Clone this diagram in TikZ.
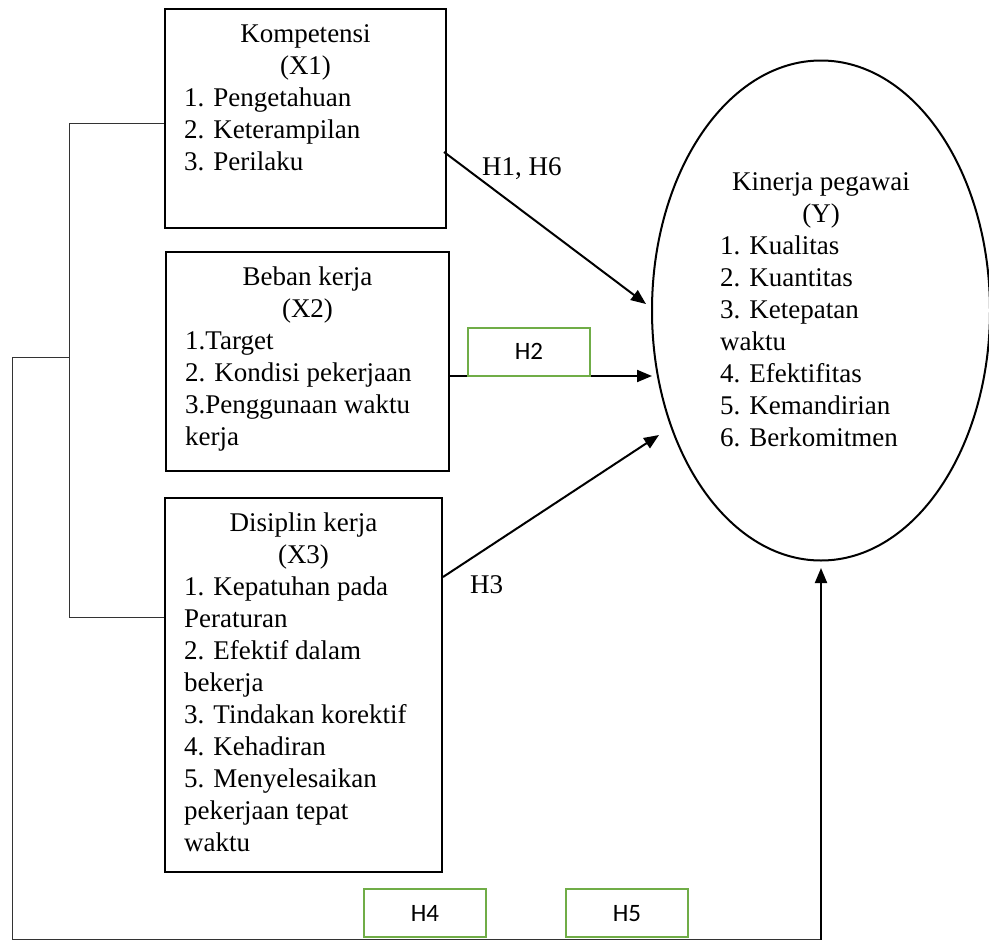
\documentclass[tikz,border=0pt]{standalone}
\usepackage{fontspec}
\setmainfont{Liberation Serif}
\newfontfamily\hfont{Carlito}
\usepackage{tikz}
\usetikzlibrary{arrows.meta, positioning, calc, shapes.geometric}
\definecolor{hgreen}{RGB}{112,173,71}

\begin{document}
\begin{tikzpicture}[x=1pt, y=-1pt,
  varbox/.style={draw, line width=2pt, inner sep=0pt},
  hbox/.style={draw=hgreen, line width=1.7pt, fill=white, minimum width=122pt, minimum height=48pt, inner sep=0pt, font=\hfont\fontsize{25}{30}\selectfont},
  ttl/.style={anchor=base, inner sep=0pt, font=\fontsize{27}{32}\selectfont},
  itm/.style={anchor=base west, inner sep=0pt, font=\fontsize{27}{32}\selectfont},
  link/.style={line width=1pt, black!80},
  arr/.style={line width=2pt, -{Triangle[length=15pt, width=12pt]}}]
  \useasboundingbox (0,0) rectangle (989,943);

  % independent variables
  \node[varbox, minimum width=281pt, minimum height=219pt] (x1) at (305.5,118.5) {};
  \node[varbox, minimum width=283pt, minimum height=219pt] (x2) at (307.5,361.5) {};
  \node[varbox, minimum width=277pt, minimum height=374pt] (x3) at (303.5,685) {};

  \node[ttl] (x1t) at ($(x1.north)+(0,34)$) {Kompetensi};
  \node[ttl] (x1c) at ($(x1.north)+(0,66)$) {(X1)};
  \foreach \t [count=\i] in {1. Pengetahuan, 2. Keterampilan, 3. Perilaku}
    \node[itm] (x1i\i) at ($(x1.north west)+(20,66+32*\i)$) {\t};

  \node[ttl] (x2t) at ($(x2.north)+(0,34)$) {Beban kerja};
  \node[ttl] (x2c) at ($(x2.north)+(0,66)$) {(X2)};
  \foreach \t [count=\i] in {1.Target, 2. Kondisi pekerjaan, 3.Penggunaan waktu, kerja}
    \node[itm] (x2i\i) at ($(x2.north west)+(20,66+32*\i)$) {\t};

  \node[ttl] (x3t) at ($(x3.north)+(0,34)$) {Disiplin kerja};
  \node[ttl] (x3c) at ($(x3.north)+(0,66)$) {(X3)};
  \foreach \t [count=\i] in {1. Kepatuhan pada, Peraturan, 2. Efektif dalam, bekerja,
      3. Tindakan korektif, 4. Kehadiran, 5. Menyelesaikan, pekerjaan tepat, waktu}
    \node[itm] (x3i\i) at ($(x3.north west)+(20,66+32*\i)$) {\t};

  % dependent variable
  \node[ellipse, draw, line width=2pt, inner sep=0pt, minimum width=338pt, minimum height=500pt] (ky) at (821,310.5) {};
  \node[ttl] (kyt) at ($(ky.north)+(0,130.5)$) {Kinerja pegawai};
  \node[ttl] (kyc) at ($(ky.north)+(0,162.5)$) {(Y)};
  \foreach \t [count=\i] in {1. Kualitas, 2. Kuantitas, 3. Ketepatan, waktu,
      4. Efektifitas, 5. Kemandirian, 6. Berkomitmen}
    \node[itm] (kyi\i) at ($(ky.north)+(-101,162.5+32*\i)$) {\t};

  % direct effects
  \coordinate (a1s) at ($(x1.north east)+(-3,144)$);
  \coordinate (a1e) at ($(ky.west)+(-5,-6.5)$);
  \draw[arr] (a1s) -- (a1e);
  \draw[arr] ($(x2.east)+(0,14.5)$) -- ($(ky.west)+(1,65.5)$);
  \coordinate (a3s) at ($(x3.east)+(0,-108)$);
  \coordinate (a3e) at ($(ky.west)+(8,124.5)$);
  \draw[arr] (a3s) -- (a3e);

  \node[itm] (lh1) at (482,175) {H1, H6};
  \node[itm] (lh3) at (470,593) {H3};
  \node[hbox, anchor=south] (h2) at (529,376.5) {H2};

  % joint effect
  \coordinate (bt) at (69,123);
  \coordinate (bb) at (69,617);
  \coordinate (bm) at (69,357);
  \coordinate (bl) at (12,357);
  \coordinate (bc) at (12,939.5);
  \coordinate (br) at (821,939.5);
  \draw[link] (x1.west |- bt) -- (bt) -- (bb) -- (x3.west |- bb);
  \draw[link] (bm) -- (bl) -- (bc) -- (br);
  \draw[arr] (br) -- ($(ky.south)+(0,6.5)$);

  \node[hbox, anchor=south] (h4) at (425,938) {H4};
  \node[hbox, anchor=south] (h5) at (627,938) {H5};
\end{tikzpicture}
\end{document}
